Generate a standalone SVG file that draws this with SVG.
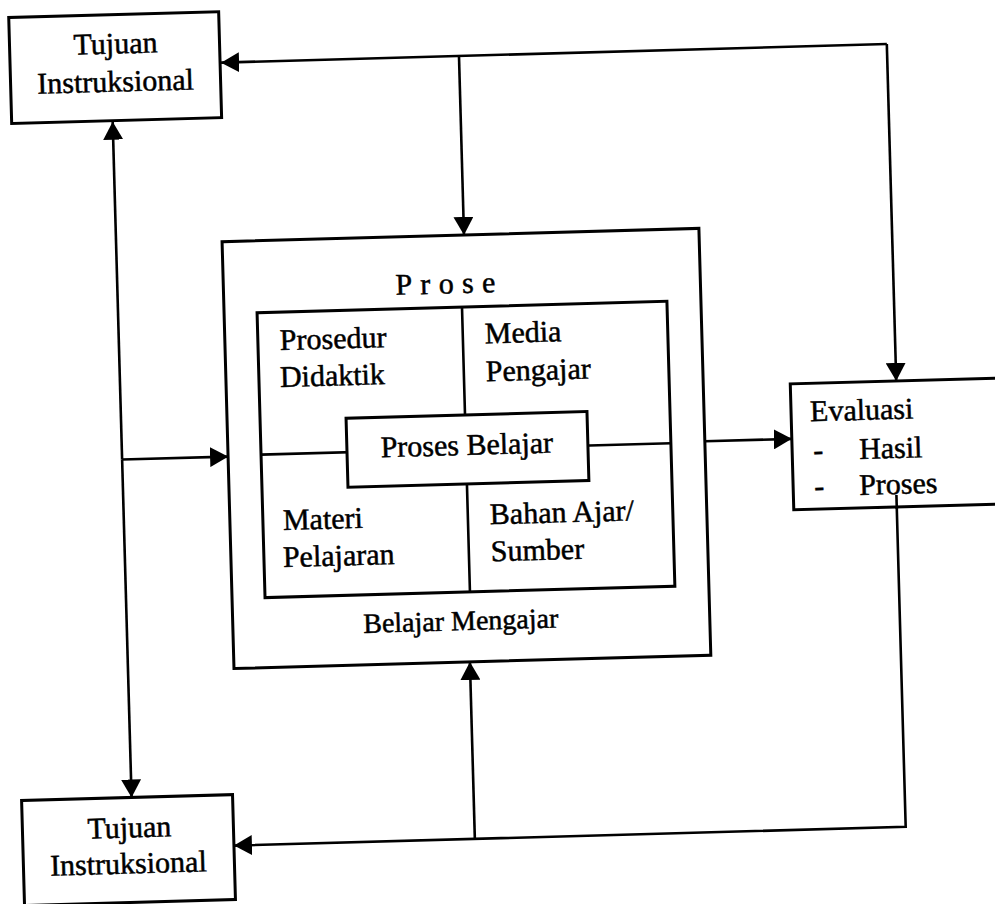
<svg xmlns="http://www.w3.org/2000/svg" width="995" height="904" viewBox="0 0 995 904">
<defs>
<style>
.box{fill:#fff;stroke:#000;stroke-width:3}
.ln{fill:none;stroke:#000;stroke-width:2.6}
.conn{fill:none;stroke:#000;stroke-width:2.6;marker-end:url(#ah)}
.t{font-family:"Liberation Serif","Times New Roman",serif;font-size:30px;fill:#000;stroke:#000;stroke-width:0.5}
.c{text-anchor:middle}
</style>
<marker id="ah" markerWidth="18" markerHeight="20" refX="18" refY="10" orient="auto" markerUnits="userSpaceOnUse">
<path d="M0,0 L18,10 L0,20 Z" fill="#000"/>
</marker>
</defs>
<rect width="995" height="904" fill="#fff"/>
<g transform="rotate(-1.6 500 450)">
<g id="connectors">
<path class="conn" d="M898,55 H232"/>
<path class="conn" d="M470,55 V234"/>
<path class="conn" d="M898,55 V392"/>
<path class="conn" d="M122,449 V111"/>
<path class="conn" d="M122,449 V787"/>
<path class="conn" d="M122,449 H228"/>
<path class="conn" d="M705,447 H792"/>
<path class="conn" d="M895,506 V838 H223"/>
<path class="conn" d="M464,838 V661"/>
</g>
<g id="tujuan-top">
<rect class="box" x="21" y="4" width="210" height="106"/>
<text class="t c" x="127" y="43">Tujuan</text>
<text class="t c" x="126" y="81">Instruksional</text>
</g>
<g id="proses-belajar-mengajar">
<rect class="box" x="228" y="234" width="477" height="427" fill="none"/>
<text class="t" x="400" y="292" style="letter-spacing:8.3px">Prose</text>
<rect class="box" x="261" y="306" width="410" height="285"/>
<path class="ln" d="M466,306 V591 M261,448 H671"/>
<text class="t" x="283" y="344">Prosedur</text>
<text class="t" x="282" y="381">Didaktik</text>
<text class="t" x="488" y="343">Media</text>
<text class="t" x="488" y="381">Pengajar</text>
<text class="t" x="281" y="524">Materi</text>
<text class="t" x="280" y="561">Pelajaran</text>
<text class="t" x="488" y="524">Bahan Ajar/</text>
<text class="t" x="488" y="561">Sumber</text>
<text class="t c" x="456" y="629" style="font-size:28px">Belajar Mengajar</text>
</g>
<g id="proses-belajar">
<rect class="box" x="347" y="414" width="241" height="69"/>
<text class="t c" x="467" y="454">Proses Belajar</text>
</g>
<g id="evaluasi">
<rect class="box" x="792" y="392" width="230" height="126"/>
<text class="t" x="811" y="430">Evaluasi</text>
<text class="t" x="813" y="469">-</text>
<text class="t" x="859" y="469">Hasil</text>
<text class="t" x="813" y="505">-</text>
<text class="t" x="858" y="505">Proses</text>
</g>
<line class="ln" x1="895" y1="506" x2="895" y2="520"/>
<g id="tujuan-bottom">
<rect class="box" x="12" y="787" width="211" height="105"/>
<text class="t c" x="119" y="827">Tujuan</text>
<text class="t c" x="117" y="863">Instruksional</text>
</g>
</g>
</svg>
